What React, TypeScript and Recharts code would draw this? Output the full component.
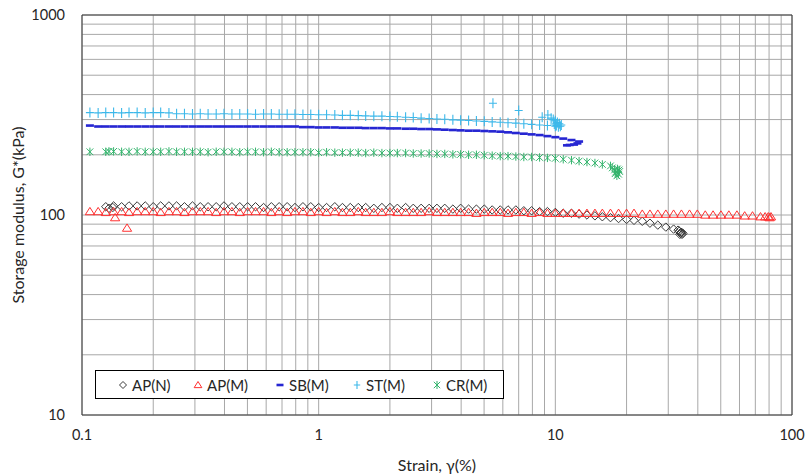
import {
  ScatterChart,
  Scatter,
  XAxis,
  YAxis,
  CartesianGrid,
  ReferenceArea,
  Legend,
  Label,
} from "recharts";

// strain sweep targets, %
const STRAIN = [
  0.1, 0.108, 0.117, 0.126, 0.136, 0.147, 0.158, 0.171, 0.185, 0.2,
  0.215, 0.233, 0.251, 0.271, 0.293, 0.316, 0.341, 0.369, 0.398, 0.43,
  0.464, 0.501, 0.541, 0.585, 0.631, 0.681, 0.736, 0.794, 0.858, 0.926,
  1.0, 1.08, 1.17, 1.26, 1.36, 1.47, 1.58, 1.71, 1.85, 2.0,
  2.15, 2.33, 2.51, 2.71, 2.93, 3.16, 3.41, 3.69, 3.98, 4.3,
  4.64, 5.01, 5.41, 5.85, 6.31, 6.81, 7.36, 7.94, 8.58, 9.26,
  10.0, 10.8, 11.7, 12.6, 13.6, 14.7, 15.8, 17.1, 18.5, 20.0,
  21.5, 23.3, 25.1, 27.1, 29.3, 31.6, 34.1, 36.9, 39.8, 43.0,
  46.4, 50.1, 54.1, 58.5, 63.1, 68.1, 73.6, 79.4,
];

const X_TICKS = [
  0.1, 0.2, 0.3, 0.4, 0.5, 0.6, 0.7, 0.8, 0.9,
  1, 2, 3, 4, 5, 6, 7, 8, 9,
  10, 20, 30, 40, 50, 60, 70, 80, 90, 100,
];
const Y_TICKS = [
  10, 20, 30, 40, 50, 60, 70, 80, 90,
  100, 200, 300, 400, 500, 600, 700, 800, 900, 1000,
];

// G* (kPa) per series, starting at STRAIN[FROM]
const AP_N_FROM = 3;
const AP_N = [
  110, 111, 110, 111, 111, 111, 110, 111, 111, 111, 110, 111, 110,
  110, 110, 111, 110, 110, 110, 110, 109, 110, 110, 110, 109, 110, 110, 109,
  109, 110, 109, 109, 109, 109, 108, 109, 109, 108, 109, 108, 108, 108, 108,
  108, 107, 108, 107, 107, 107, 106, 106, 106, 106,
  105, 105, 104, 104, 103,
  102, 102, 101, 100, 99, 98, 97, 96,
  95, 94, 93, 91, 89, 87, 85, 82,
];
const AP_N_EXTRA: [number, number][] = [
  [0.13, 108], [0.135, 109], [33.0, 84], [33.4, 83], [33.8, 81],
  [34.3, 80], [34.0, 82], [34.6, 81], [33.6, 80],
];

const AP_M_FROM = 1;
const AP_M = [
  104, 104, 103, 104, 104, 103, 104, 104, 104, 103, 104, 104, 103, 104, 104,
  104, 103, 104, 104, 103, 104, 104, 104, 103, 104, 103, 104, 104, 103, 104,
  103, 104, 103, 103, 104, 103, 103, 103, 104, 103, 103, 103, 103, 104, 103,
  103, 103, 103, 103, 102, 103, 103, 103, 102, 103, 103, 102, 103, 102, 102,
  102, 102, 102, 102, 102, 102, 102, 102, 102, 102,
  101, 101, 101, 101, 101, 101, 101, 101,
  100, 100, 100, 100, 100, 99, 99, 98, 98,
];
const AP_M_EXTRA: [number, number][] = [
  [0.138, 97], [0.155, 86], [77.0, 98], [80.5, 97], [81.5, 98],
];

const SB_M_FROM = 1;
const SB_M = [
  280,
  277, 277, 277, 277, 277, 277, 277, 277, 277, 277, 277, 277, 277,
  277, 277, 277, 277, 277, 277, 277, 277, 277, 277, 277, 277, 277,
  275, 275, 274, 274, 274, 273, 273, 273, 272, 272,
  272, 271, 271, 270, 270, 269, 269, 268, 267,
  266, 265, 264, 264, 263, 262, 261,
  259, 257, 255, 253, 251,
  248, 245, 241,
  237, 233,
];
const SB_M_EXTRA: [number, number][] = [
  [12.4, 228], [12.0, 225], [11.5, 224], [11.2, 223],
];

const ST_M_FROM = 1;
const ST_M = [
  325, 324, 325, 325, 324, 325, 325, 324, 325, 325, 324,
  321, 321, 320, 321, 320, 320, 321, 320, 320, 320, 319, 320, 320, 319, 319, 319,
  318, 318, 317, 317, 316, 315, 315, 314, 313, 312, 312, 311, 310,
  308, 307, 305, 304, 302, 301, 299,
  298, 297, 295, 294, 292, 291,
  289, 288, 286, 284, 282, 280, 278,
];
const ST_M_EXTRA: [number, number][] = [
  [5.45, 362], [7.0, 333], [8.8, 308], [9.3, 316], [9.6, 305], [9.8, 300],
  [10.0, 296], [10.2, 290], [10.4, 286], [10.6, 282], [10.5, 278],
  [10.3, 276], [10.1, 280], [9.9, 285],
];

const CR_M_FROM = 3;
const CR_M = [
  207, 208, 207, 207, 208, 207, 207, 207, 208, 207, 207, 207, 207, 206, 207,
  207, 207, 206, 207, 207, 206, 207, 206, 206, 206,
  206, 206, 205, 206, 205, 205, 205, 205, 204, 205, 204, 204, 204, 204, 203,
  203, 203, 202, 202, 201, 201, 200, 200, 199, 198,
  197, 197, 196, 195, 195, 194, 193, 192,
  190, 188, 186, 184, 182, 179, 176,
];
const CR_M_EXTRA: [number, number][] = [
  [0.108, 207], [0.13, 208], [17.4, 172], [17.8, 168], [18.0, 164],
  [18.3, 170], [18.5, 160], [18.7, 165], [18.2, 157], [18.6, 168], [17.9, 161],
];

const FONT = "Lato, 'Open Sans', sans-serif";
const TEXT = "#262626";

const C_APN = "#3a3a3a";
const C_APM = "#ff3030";
const C_SB = "#2626d2";
const C_ST = "#3cb8ea";
const C_CR = "#33b46c";

function toPoints(from: number, values: number[], extra: [number, number][]) {
  return values
    .map((g, k) => ({ x: STRAIN[from + k], y: g }))
    .concat(extra.map(([x, y]) => ({ x, y })));
}

function isDecade(v: number) {
  return Math.abs(Math.log10(v) - Math.round(Math.log10(v))) < 1e-9;
}

function Diamond({ cx, cy, r = 4.2 }: any) {
  return (
    <path
      d={`M${cx},${cy - r}L${cx + r},${cy}L${cx},${cy + r}L${cx - r},${cy}Z`}
      fill="none"
      stroke={C_APN}
      strokeWidth={1}
    />
  );
}

function Triangle({ cx, cy, r = 4.2 }: any) {
  return (
    <path
      d={`M${cx},${cy - r}L${cx + r * 1.1},${cy + r * 0.75}L${cx - r * 1.1},${cy + r * 0.75}Z`}
      fill="none"
      stroke={C_APM}
      strokeWidth={1}
    />
  );
}

function Dash({ cx, cy, w = 8 }: any) {
  return <rect x={cx - w / 2} y={cy - 1.3} width={w} height={2.6} fill={C_SB} />;
}

function Plus({ cx, cy, r = 5 }: any) {
  return (
    <path
      d={`M${cx},${cy - r}V${cy + r}M${cx - r * 0.8},${cy}H${cx + r * 0.8}`}
      stroke={C_ST}
      strokeWidth={1.1}
      fill="none"
    />
  );
}

function Asterisk({ cx, cy, r = 4.2 }: any) {
  const d = r * 0.8;
  return (
    <path
      d={`M${cx - d},${cy - d}L${cx + d},${cy + d}M${cx + d},${cy - d}L${cx - d},${cy + d}M${cx},${cy - r}V${cy + r}`}
      stroke={C_CR}
      strokeWidth={1}
      fill="none"
    />
  );
}

const LEGEND_ITEMS = [
  { name: "AP(N)", Icon: Diamond, r: 3.5 },
  { name: "AP(M)", Icon: Triangle, r: 3.5 },
  { name: "SB(M)", Icon: Dash, r: 4 },
  { name: "ST(M)", Icon: Plus, r: 4 },
  { name: "CR(M)", Icon: Asterisk, r: 4 },
];
const LEGEND_LEFT = [27, 102, 184, 261, 341];

function LegendBox() {
  return (
    <div
      style={{
        position: "relative",
        width: 407,
        height: 27,
        border: "1px solid #000",
        background: "#fff",
        fontFamily: FONT,
        fontSize: 15,
        color: TEXT,
      }}
    >
      {LEGEND_ITEMS.map((it, i) => (
        <div
          key={it.name}
          style={{
            position: "absolute",
            left: LEGEND_LEFT[i] - 6,
            top: 0,
            height: 27,
            display: "flex",
            alignItems: "center",
            whiteSpace: "nowrap",
          }}
        >
          <svg width={12} height={12} style={{ marginRight: 3 }}>
            <it.Icon cx={6} cy={6} r={it.r} w={7} />
          </svg>
          <span>{it.name}</span>
        </div>
      ))}
    </div>
  );
}

export default function App() {
  const apN = toPoints(AP_N_FROM, AP_N, AP_N_EXTRA);
  const apM = toPoints(AP_M_FROM, AP_M, AP_M_EXTRA);
  const sbM = toPoints(SB_M_FROM, SB_M, SB_M_EXTRA);
  const stM = toPoints(ST_M_FROM, ST_M, ST_M_EXTRA);
  const crM = toPoints(CR_M_FROM, CR_M, CR_M_EXTRA);

  const tick = { fill: TEXT, fontSize: 14.5, fontFamily: FONT };

  return (
    <div style={{ position: "absolute", left: 0, top: 0, width: 809, height: 475, background: "#fff" }}>
      <ScatterChart width={809} height={475} margin={{ top: 15, right: 17, bottom: 0, left: 0 }}>
        <CartesianGrid stroke="#a8a8a8" strokeWidth={1} />
        <XAxis
          type="number"
          dataKey="x"
          scale="log"
          domain={[0.1, 100]}
          ticks={X_TICKS}
          interval={0}
          allowDataOverflow
          height={60}
          axisLine={false}
          tickLine={false}
          tickMargin={9}
          tick={tick}
          tickFormatter={(v: number) => (isDecade(v) ? String(v) : "")}
        >
          <Label
            value="Strain, γ(%)"
            position="insideBottom"
            offset={4}
            style={{ fill: TEXT, fontSize: 16, fontFamily: FONT }}
          />
        </XAxis>
        <YAxis
          type="number"
          dataKey="y"
          scale="log"
          domain={[10, 1000]}
          ticks={Y_TICKS}
          interval={0}
          allowDataOverflow
          width={82}
          axisLine={false}
          tickLine={false}
          tickMargin={11}
          tick={tick}
          tickFormatter={(v: number) => (isDecade(v) ? String(v) : "")}
        >
          <Label
            content={() => (
              <text
                x={17}
                y={215}
                transform="rotate(-90 17 215)"
                textAnchor="middle"
                dominantBaseline="central"
                fill={TEXT}
                fontSize={16}
                fontFamily={FONT}
              >
                Storage modulus, G*(kPa)
              </text>
            )}
          />
        </YAxis>
        <ReferenceArea x1={0.1} x2={100} y1={10} y2={1000} fill="none" stroke="#3a3a3a" strokeWidth={1} />
        <Scatter name="AP(N)" data={apN} isAnimationActive={false} shape={(p: any) => <Diamond cx={p.cx} cy={p.cy} />} />
        <Scatter name="AP(M)" data={apM} isAnimationActive={false} shape={(p: any) => <Triangle cx={p.cx} cy={p.cy} />} />
        <Scatter name="SB(M)" data={sbM} isAnimationActive={false} shape={(p: any) => <Dash cx={p.cx} cy={p.cy} />} />
        <Scatter name="ST(M)" data={stM} isAnimationActive={false} shape={(p: any) => <Plus cx={p.cx} cy={p.cy} />} />
        <Scatter name="CR(M)" data={crM} isAnimationActive={false} shape={(p: any) => <Asterisk cx={p.cx} cy={p.cy} />} />
        <Legend
          layout="horizontal"
          verticalAlign="middle"
          wrapperStyle={{ position: "absolute", left: 95, top: 370, width: 409, height: 29 }}
          content={() => <LegendBox />}
        />
      </ScatterChart>
    </div>
  );
}
